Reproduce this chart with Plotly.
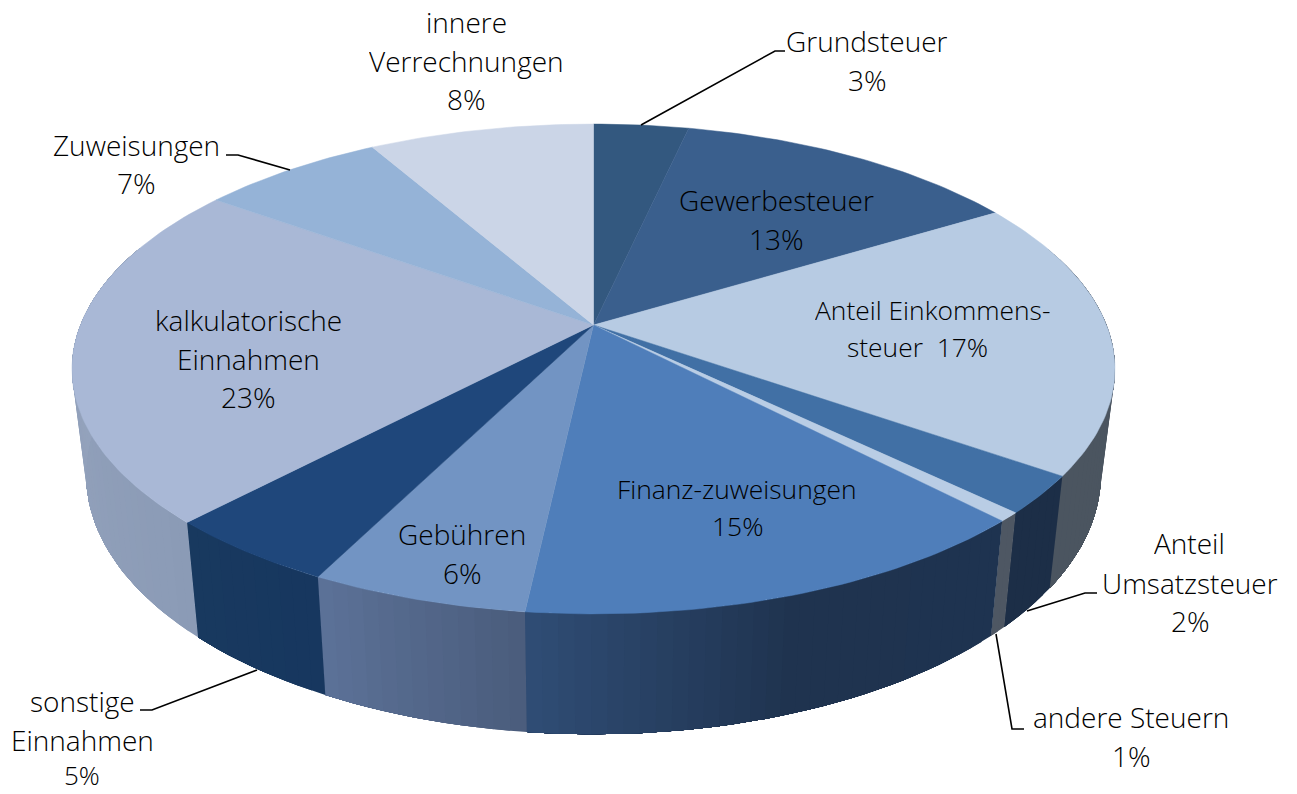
import numpy as np
import plotly.graph_objects as go

# ---- data ----
categories = ["Grundsteuer", "Gewerbesteuer", "Anteil Einkommenssteuer", "Anteil Umsatzsteuer",
              "andere Steuern", "Finanz-zuweisungen", "Gebühren", "sonstige Einnahmen",
              "kalkulatorische Einnahmen", "Zuweisungen", "innere Verrechnungen"]
shares = [3.5, 12.85, 18.35, 2.5, 0.6, 13.95, 5.7, 4.65, 22.8, 6.8, 8.3]

# ---- styles ----
top_colors = ["#33587F", "#3A5F8D", "#B7CBE3", "#4170A5", "#B9CDE5", "#4F7EBA",
              "#7294C3", "#1F477B", "#A9B8D6", "#95B3D7", "#CBD5E7"]
# wall colours, in order of increasing angle (clockwise, so front wall runs right to left)
wall_colors = [["#2A4668", "#2A4668"], ["#2F4D72", "#2F4D72"], ["#4B5560", "#4B5560"],
               ["#1C2E47", "#1C2E47"], ["#4E5763", "#4E5763"],
               ["#1E3350", "#1F334F", "#2F4D75"], ["#4A5C7C", "#5C7298"],
               ["#17375F", "#18395F"], ["#8B9BB6", "#98A6BF"], ["#7A90AC", "#7A90AC"], ["#9AA3B3", "#9AA3B3"]]

# label lines: (text, centre x, centre y, size)
labels = [
    ("Grundsteuer", 867, 41, 28), ("3%", 867, 80, 28),
    ("innere", 466, 22, 28), ("Verrechnungen", 466, 61, 28), ("8%", 466, 99, 28),
    ("Zuweisungen", 136, 145, 28), ("7%", 136, 183, 28),
    ("Gewerbesteuer", 776, 200, 28), ("13%", 776, 239, 28),
    ("Anteil Einkommens-", 932, 310, 26.4), ("steuer  17%", 917, 347, 26.4),
    ("kalkulatorische", 248, 320, 28), ("Einnahmen", 248, 359, 28), ("23%", 248, 397, 28),
    ("Finanz-zuweisungen", 737, 489, 26.4), ("15%", 737, 526, 26.4),
    ("Gebühren", 462, 534, 28), ("6%", 462, 573, 28),
    ("Anteil", 1189, 543, 28), ("Umsatzsteuer", 1190, 583, 28), ("2%", 1190, 621, 28),
    ("andere Steuern", 1131, 717, 28), ("1%", 1131, 756, 28),
    ("sonstige", 82, 701, 28), ("Einnahmen", 82, 740, 28), ("5%", 82, 775, 26),
]
leaders = [
    [(641, 125), (775, 51), (785, 51)],
    [(290, 170), (238, 155), (226, 155)],
    [(1027, 611), (1085, 593), (1097, 593)],
    [(996, 634), (1012, 729), (1024, 729)],
    [(257, 670), (152, 710), (140, 710)],
]

# ---- tilted-disc projection ----
CX, CY, A, B, K = 593.5, 325.0, 513.0, 237.0, 0.1796
BOTTOM_CY, BOTTOM_SX, BOTTOM_SY = 428.0, 0.973, 1.06


def top_pt(theta):
    u, v = np.sin(theta), np.cos(theta)
    d = 1 + K * v
    return CX + A * u / d, CY - B * v / d


def bottom_pt(theta):
    x, y = top_pt(theta)
    return CX + BOTTOM_SX * (x - CX), BOTTOM_CY + BOTTOM_SY * (y - CY)


def mix(stops, f):
    arr = np.array([[int(c[i:i + 2], 16) for i in (1, 3, 5)] for c in stops], float)
    pos = np.linspace(0, 1, len(stops))
    rgb = [np.interp(f, pos, arr[:, j]) for j in range(3)]
    return "rgb({:.0f},{:.0f},{:.0f})".format(*rgb)


vals = np.array(shares, float)
edges = np.concatenate([[0], np.cumsum(vals)]) / vals.sum() * 2 * np.pi

fig = go.Figure()
NOHOVER = dict(hoverinfo="skip", showlegend=False, mode="lines", fill="toself")

# walls, only the near half can be seen. Each strip runs on to the slice's end and the
# next strip paints over it, so that no seam shows between strips.
lo, hi = np.radians(70), np.radians(290)
for i in range(len(vals)):
    a0, a1 = max(edges[i], lo), min(edges[i + 1], hi)
    if a1 <= a0:
        continue
    n = max(2, int(np.degrees(a1 - a0) / 1.5))
    ts = np.linspace(a0, a1, n + 1)
    for j in range(n):
        arc = np.linspace(ts[j], a1, max(2, n - j + 1))
        xt, yt = top_pt(arc)
        xb, yb = bottom_pt(arc[::-1])
        c = mix(wall_colors[i], (j + .5) / n)
        fig.add_trace(go.Scatter(x=[*xt, *xb, xt[0]], y=[*yt, *yb, yt[0]],
                                 fillcolor=c, line=dict(color=c, width=0), **NOHOVER))

# top surface
for i in range(len(vals)):
    n = max(4, int(np.degrees(edges[i + 1] - edges[i])))
    ts = np.linspace(edges[i], edges[i + 1], n + 1)
    xs, ys = top_pt(ts)
    fig.add_trace(go.Scatter(x=[CX, *xs, CX], y=[CY, *ys, CY], name=categories[i],
                             fillcolor=top_colors[i], line=dict(color=top_colors[i], width=0.5), **NOHOVER))

for pts in leaders:
    fig.add_trace(go.Scatter(x=[p[0] for p in pts], y=[p[1] for p in pts], mode="lines",
                             line=dict(color="#000000", width=1.6), hoverinfo="skip", showlegend=False))

for text, x, y, size in labels:
    fig.add_annotation(x=x, y=y, text=text, showarrow=False, xanchor="center", yanchor="middle",
                       height=36 if text == "5%" else 40,
                       font=dict(family="Open Sans", size=size, color="#000000", weight=300))

fig.update_layout(width=1297, height=794, margin=dict(l=0, r=0, t=0, b=0),
                  paper_bgcolor="white", plot_bgcolor="white", showlegend=False,
                  xaxis=dict(range=[0, 1297], visible=False, fixedrange=True),
                  yaxis=dict(range=[794, 0], visible=False, fixedrange=True))
fig.write_html("out.html", post_script="document.body.style.margin='0';document.body.style.overflow='hidden';",
               config={"displayModeBar": False})
